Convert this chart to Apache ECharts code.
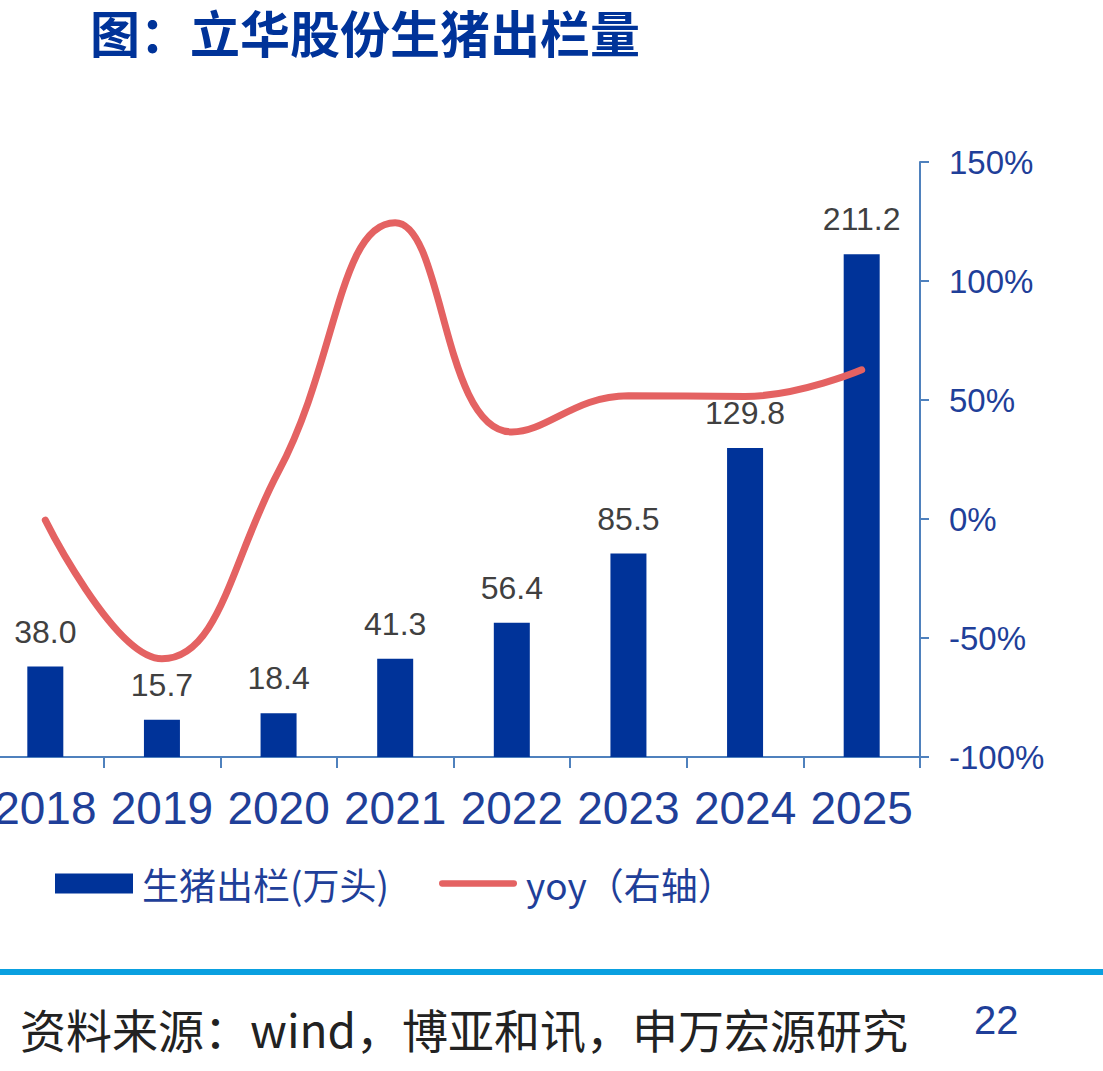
<!DOCTYPE html>
<html>
<head>
<meta charset="utf-8">
<script src="https://cdn.jsdelivr.net/npm/echarts@6/dist/echarts.min.js"></script>
<style>
  html, body { margin: 0; padding: 0; background: #fff; }
  #chart { width: 1103px; height: 1071px; }
</style>
</head>
<body>
<div id="chart"></div>
<script>
// values
const years = ["2018", "2019", "2020", "2021", "2022", "2023", "2024", "2025"];
const hogs = [38.0, 15.7, 18.4, 41.3, 56.4, 85.5, 129.8, 211.2];   // 生猪出栏(万头)
const yoy = [-0.5, -58.7, 20.0, 124.5, 36.6, 51.8, 51.5, 62.7];    // %, right axis
const yoyTicks = { min: -100, max: 150, interval: 50 };

const FONT = "'Liberation Sans', 'Noto Sans CJK SC', sans-serif";
const CJK = "'Noto Sans CJK SC', 'Liberation Sans', sans-serif";
const BLUE = "#003399";
const AXIS = "#4F81BD";
const LABEL_BLUE = "#1F3F99";
const RED = "#E46262";

const chart = echarts.init(document.getElementById("chart"), null, { renderer: "svg" });

chart.setOption({
  backgroundColor: "#fff",
  animation: false,
  textStyle: { fontFamily: FONT },
  grid: {
    left: -13, right: 183, top: 162, bottom: 314,
    containLabel: false,
    outerBoundsMode: "none"
  },
  legend: {
    left: 50, top: 860,
    itemWidth: 78, itemHeight: 20, itemGap: 50,
    textStyle: { fontSize: 37, color: LABEL_BLUE, fontFamily: CJK, padding: [0, 0, 0, 4] },
    data: [
      { name: "生猪出栏(万头)", icon: "rect" },
      { name: "yoy（右轴）", icon: "path://M3.5,0 L83.5,0 A3.5,3.5 0 0 1 83.5,7 L3.5,7 A3.5,3.5 0 0 1 3.5,0 Z", itemStyle: { color: RED } }
    ]
  },
  xAxis: {
    type: "category",
    data: years,
    axisLine: { lineStyle: { color: AXIS, width: 2 } },
    axisTick: { show: true, length: 11, lineStyle: { color: AXIS, width: 2 } },
    axisLabel: { fontSize: 46, color: LABEL_BLUE, margin: 28, interval: 0, fontFamily: FONT }
  },
  yAxis: [
    { type: "value", min: 0, max: 250, show: false, splitLine: { show: false } },
    {
      type: "value", position: "right",
      min: yoyTicks.min, max: yoyTicks.max, interval: yoyTicks.interval,
      splitLine: { show: false },
      axisLine: { show: true, lineStyle: { color: AXIS, width: 2 } },
      axisTick: { show: true, length: 9, lineStyle: { color: AXIS, width: 2 } },
      axisLabel: { formatter: "{value}%", fontSize: 33, color: LABEL_BLUE, margin: 29, fontFamily: FONT }
    }
  ],
  series: [
    {
      name: "生猪出栏(万头)",
      type: "bar",
      data: hogs,
      barWidth: 36,
      itemStyle: { color: BLUE },
      label: {
        show: true, position: "top", distance: 19,
        fontSize: 32, color: "#404040", fontFamily: FONT,
        formatter: p => p.value.toFixed(1)
      }
    },
    {
      name: "yoy（右轴）",
      type: "line",
      yAxisIndex: 1,
      data: yoy,
      smooth: 0.45,
      symbol: "none",
      lineStyle: { color: RED, width: 7, cap: "round" },
      itemStyle: { color: RED }
    }
  ],
  graphic: [
    {
      type: "text", left: 90, top: 6,
      style: { text: "图：立华股份生猪出栏量", font: "bold 50px " + CJK, fill: BLUE }
    },
    {
      type: "rect", left: 0, top: 969,
      shape: { width: 1103, height: 6 },
      style: { fill: "#0AA0E0" }
    },
    {
      type: "text", left: 20, top: 1005,
      style: { text: "资料来源：wind，博亚和讯，申万宏源研究", font: "46px " + CJK, fill: "#222" }
    },
    {
      type: "text", left: 974, top: 1000,
      style: { text: "22", font: "40px " + FONT, fill: LABEL_BLUE }
    }
  ]
});
</script>
</body>
</html>
